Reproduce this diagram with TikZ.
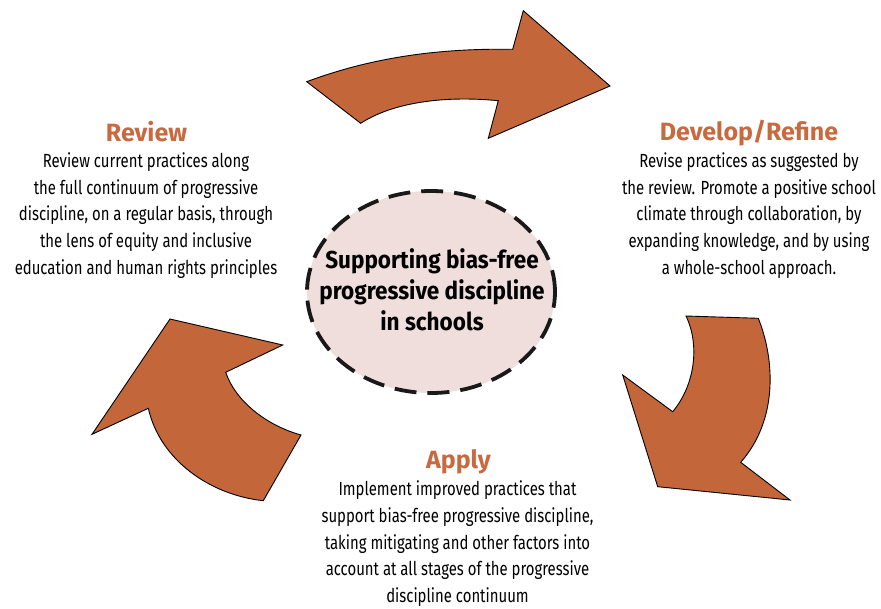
\documentclass[tikz,border=0pt]{standalone}
\usepackage{fontspec}
\setmainfont{Fira Sans}
\newfontfamily\bodyfont[FakeStretch=0.785]{Fira Sans}
\newfontfamily\headfont{Fira Sans}
\newfontfamily\centerfont[FakeStretch=0.92]{Fira Sans}
\usetikzlibrary{shapes.geometric}
\definecolor{arrowfill}{HTML}{C3663A}
\definecolor{titlecol}{HTML}{C8693F}
\definecolor{ellfill}{HTML}{EFDEDC}
\tikzset{
  bigarrow/.style={fill=arrowfill, draw=black, line width=0.9pt, line join=miter},
  steptitle/.style={text=titlecol, font=\headfont\bfseries\fontsize{25}{29}\selectfont, inner sep=0pt},
  stepbody/.style={align=center, font=\bodyfont\fontsize{19}{26.8}\selectfont, inner sep=0pt},
  hub/.style={ellipse, fill=ellfill, draw=black!90, line width=3.8pt, dash pattern=on 22pt off 11pt,
    minimum width=248pt, minimum height=202pt, inner sep=0pt}
}
\begin{document}
\begin{tikzpicture}[x=1pt,y=-1pt]
\useasboundingbox (0,0) rectangle (881,608);
% top arrow
\draw[bigarrow] (306.7,81.7) -- (360.7,123.3)
  .. controls (390,104) and (440,95) .. (498.3,100.7)
  -- (488.3,138.3) -- (610,86) -- (523.3,10.7) -- (512.7,49.3)
  .. controls (430,48) and (365,60) .. cycle;
% right arrow
\draw[bigarrow] (686,316) -- (758.3,318.3)
  .. controls (775,360) and (778,420) .. (740.7,462.3)
  -- (790,500) -- (657.7,486.7) -- (622.7,375) -- (672.7,411.7)
  .. controls (695,385) and (700,345) .. cycle;
% left arrow
\draw[bigarrow] (263.3,500.7) -- (301,435)
  .. controls (265,425) and (235,400) .. (225.7,372.3)
  -- (282.7,345) -- (170,319) -- (92,434.3) -- (148.3,408.3)
  .. controls (160,460) and (210,495) .. cycle;
% hub
\node[hub] (hub) at (431,292) {};
\node[align=center, font=\centerfont\bfseries\fontsize{24.5}{31}\selectfont, inner sep=0pt] (hubtext) at (432,290)
  {Supporting bias-free\\progressive discipline\\in schools};
% Review
\node[steptitle] (revt) at (146.5,132) {Review};
\node[stepbody] (revb) at (146,215.5) {Review current practices along\\the full continuum of progressive\\discipline, on a regular basis, through\\the lens of equity and inclusive\\education and human rights principles};
% Develop
\node[steptitle] (devt) at (749,133) {Develop/Refine};
\node[stepbody] (devb) at (749,215.5) {Revise practices as suggested by\\the review. Promote a positive school\\climate through collaboration, by\\expanding knowledge, and by using\\a whole-school approach.};
% Apply
\node[steptitle] (appt) at (458.5,461.7) {Apply};
\node[stepbody] (appb) at (457.5,543.8) {Implement improved practices that\\support bias-free progressive discipline,\\taking mitigating and other factors into\\account at all stages of the progressive\\discipline continuum};
\end{tikzpicture}
\end{document}
